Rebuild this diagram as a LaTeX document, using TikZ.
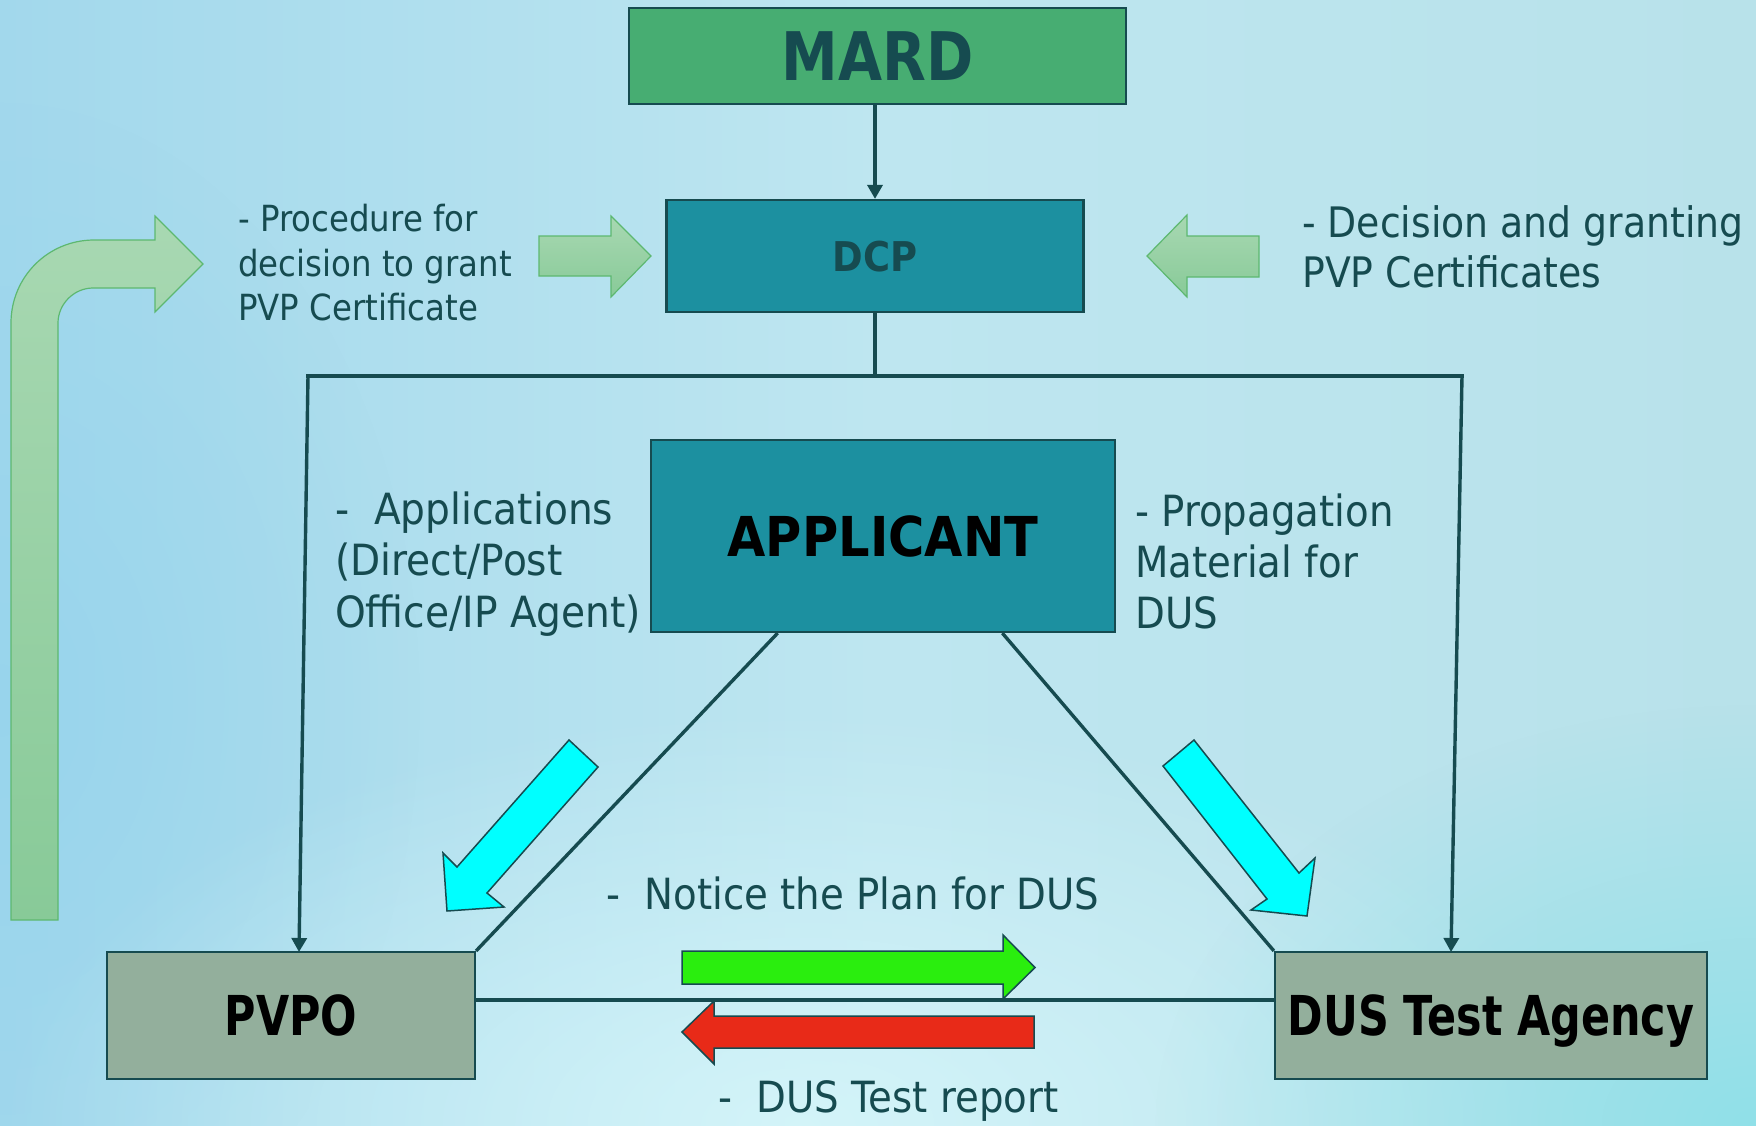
\documentclass[tikz,border=0pt]{standalone}
\usepackage{fontspec}
\setmainfont{DejaVu Sans}
\newfontfamily\txtfont{DejaVu Sans}[FakeStretch=0.9]
\newfontfamily\txtfontw{DejaVu Sans}[FakeStretch=0.91]
\newfontfamily\lblN{DejaVu Sans}[FakeStretch=0.78]
\newfontfamily\lblM{DejaVu Sans}[FakeStretch=0.85]
\newfontfamily\lblW{DejaVu Sans}[FakeStretch=0.9]
\usetikzlibrary{arrows.meta,calc,fadings}
\tikzfading[name=softglow, inner color=transparent!0, outer color=transparent!100]
\definecolor{dteal}{RGB}{22,75,80}
\definecolor{mardg}{RGB}{71,173,114}
\definecolor{boxb}{RGB}{28,144,160}
\definecolor{boxg}{RGB}{147,175,156}
\definecolor{pgTop}{RGB}{168,216,178}
\definecolor{pgBot}{RGB}{136,202,152}
\definecolor{pgEdge}{RGB}{93,184,112}
\definecolor{arrG}{RGB}{42,238,14}
\definecolor{arrR}{RGB}{232,42,24}
\definecolor{arrC}{RGB}{0,255,255}
\definecolor{bgL}{RGB}{162,216,236}
\definecolor{bgM}{RGB}{190,230,240}
\definecolor{bgR}{RGB}{184,226,234}
\definecolor{bgC}{RGB}{140,224,232}
\definecolor{bgW}{RGB}{214,246,250}
\definecolor{bgB}{RGB}{150,212,236}
\tikzset{
  box/.style={draw=dteal, line width=2.2pt, inner sep=0pt, rectangle, text depth=0pt},
  conn/.style={draw=dteal, line width=3.4pt},
  tipd/.style={-{Triangle[length=14pt,width=15pt]}},
  palearrow/.style={draw=pgEdge, line width=1.2pt, top color=pgTop, bottom color=pgBot},
  cyanarrow/.style={draw=dteal, line width=1.5pt, fill=arrC},
  txt/.style={text=dteal, align=left, inner sep=0pt, anchor=west},
}
\begin{document}
\begin{tikzpicture}[x=1pt,y=-1pt]
\useasboundingbox (0,0) rectangle (1756,1125);
% background
\shade[left color=bgL, right color=bgR, middle color=bgM] (0,0) rectangle (1756,1125);
\fill[bgB, opacity=0.8, path fading=softglow] (0,700) ellipse (420 and 600);
\fill[bgW, opacity=0.9, path fading=softglow] (800,1125) ellipse (800 and 420);
\fill[bgC, opacity=0.9, path fading=softglow] (1756,1125) ellipse (600 and 420);

% nodes
\node[box, fill=mardg, minimum width=497pt, minimum height=96pt, text=dteal,
  font=\lblM\bfseries\fontsize{67}{67}\selectfont] (mard) at (877.5,56) {MARD};
\node[box, fill=boxb, minimum width=417pt, minimum height=112pt, text=dteal,
  font=\lblW\bfseries\fontsize{41}{41}\selectfont] (dcp) at (875,256) {DCP};
\node[box, fill=boxb, minimum width=464pt, minimum height=192pt, text=black,
  font=\lblW\bfseries\fontsize{55}{55}\selectfont] (app) at (883,536) {APPLICANT};
\node[box, fill=boxg, minimum width=368pt, minimum height=127pt, text=black,
  font=\lblN\bfseries\fontsize{55}{55}\selectfont] (pvpo) at (291,1015.5) {PVPO};
\node[box, fill=boxg, minimum width=432pt, minimum height=127pt, text=black,
  font=\lblN\bfseries\fontsize{55}{55}\selectfont] (dus) at (1491,1015.5) {DUS Test Agency};

% coordinates
\coordinate (jm) at (875,376);
\coordinate (jl) at (308,376);
\coordinate (jr) at (1462,376);
\coordinate (pvin) at (299,952);
\coordinate (dusin) at (1451,952);
\coordinate (al) at ($(app.south west)!0.274!(app.south east)$);
\coordinate (ar) at ($(app.south west)!0.756!(app.south east)$);

% connectors
\draw[conn, tipd] (dcp.north |- mard.south) -- (dcp.north);
\draw[conn] (dcp.south) -- (jm);
\draw[conn, line cap=rect] (jl) -- (jr);
\draw[conn, tipd] (jl) -- (pvin);
\draw[conn, tipd] (jr) -- (dusin);
\draw[conn] (al) -- (pvpo.north east);
\draw[conn] (ar) -- (dus.north west);
\draw[conn] ([yshift=15.5pt]pvpo.east) -- ([yshift=15.5pt]dus.west);

% big bent pale arrow
\draw[palearrow] (11,920) -- (11,323) .. controls (11,277) and (48,240) .. (94,240)
  -- (155,240) -- (155,216) -- (203,264) -- (155,312) -- (155,288) -- (93,288)
  .. controls (74,288) and (58,304) .. (58,323) -- (58,920) -- cycle;
% small pale arrows
\draw[palearrow] (539,236) -- (611,236) -- (611,216) -- (651,256) -- (611,297) -- (611,276) -- (539,276) -- cycle;
\draw[palearrow] (1259,236) -- (1187,236) -- (1187,215) -- (1147,256) -- (1187,297) -- (1187,277) -- (1259,277) -- cycle;

% cyan arrows
\draw[cyanarrow] (569,740) -- (598,767) -- (487,893) -- (504,907) -- (447,911) -- (443,853) -- (457,867) -- cycle;
\draw[cyanarrow] (1194,740) -- (1299,873) -- (1315,858) -- (1307,916) -- (1251,910) -- (1267,899) -- (1163,766) -- cycle;

% green and red arrows
\draw[draw=dteal, line width=1.5pt, fill=arrG] (682,951) -- (1003,951) -- (1003,935) -- (1035,967.5) -- (1003,999) -- (1003,984) -- (682,984) -- cycle;
\draw[draw=dteal, line width=1.5pt, fill=arrR] (1034,1016) -- (714,1016) -- (714,1001) -- (682,1032) -- (714,1064) -- (714,1048) -- (1034,1048) -- cycle;

% texts
\node[txt, font=\txtfont\fontsize{36}{44.5}\selectfont] (t1) at (238,263)
  {- Procedure for\\decision to grant\\PVP Certificate};
\node[txt, font=\txtfont\fontsize{42}{50}\selectfont] (t2) at (1302,247)
  {- Decision and granting\\PVP Certificates};
\node[txt, font=\txtfontw\fontsize{43}{51.5}\selectfont] (t3) at (335,564)
  {-\ \ Applications\\(Direct/Post\\Office/IP Agent)};
\node[txt, font=\txtfont\fontsize{43}{51}\selectfont] (t4) at (1135,561)
  {- Propagation\\Material for\\DUS};
\node[txt, font=\txtfont\fontsize{43}{51}\selectfont] (t5) at (606,893)
  {-\ \ Notice the Plan for DUS};
\node[txt, font=\txtfont\fontsize{43}{51}\selectfont] (t6) at (718,1101)
  {-\ \ DUS Test report};
\end{tikzpicture}
\end{document}
